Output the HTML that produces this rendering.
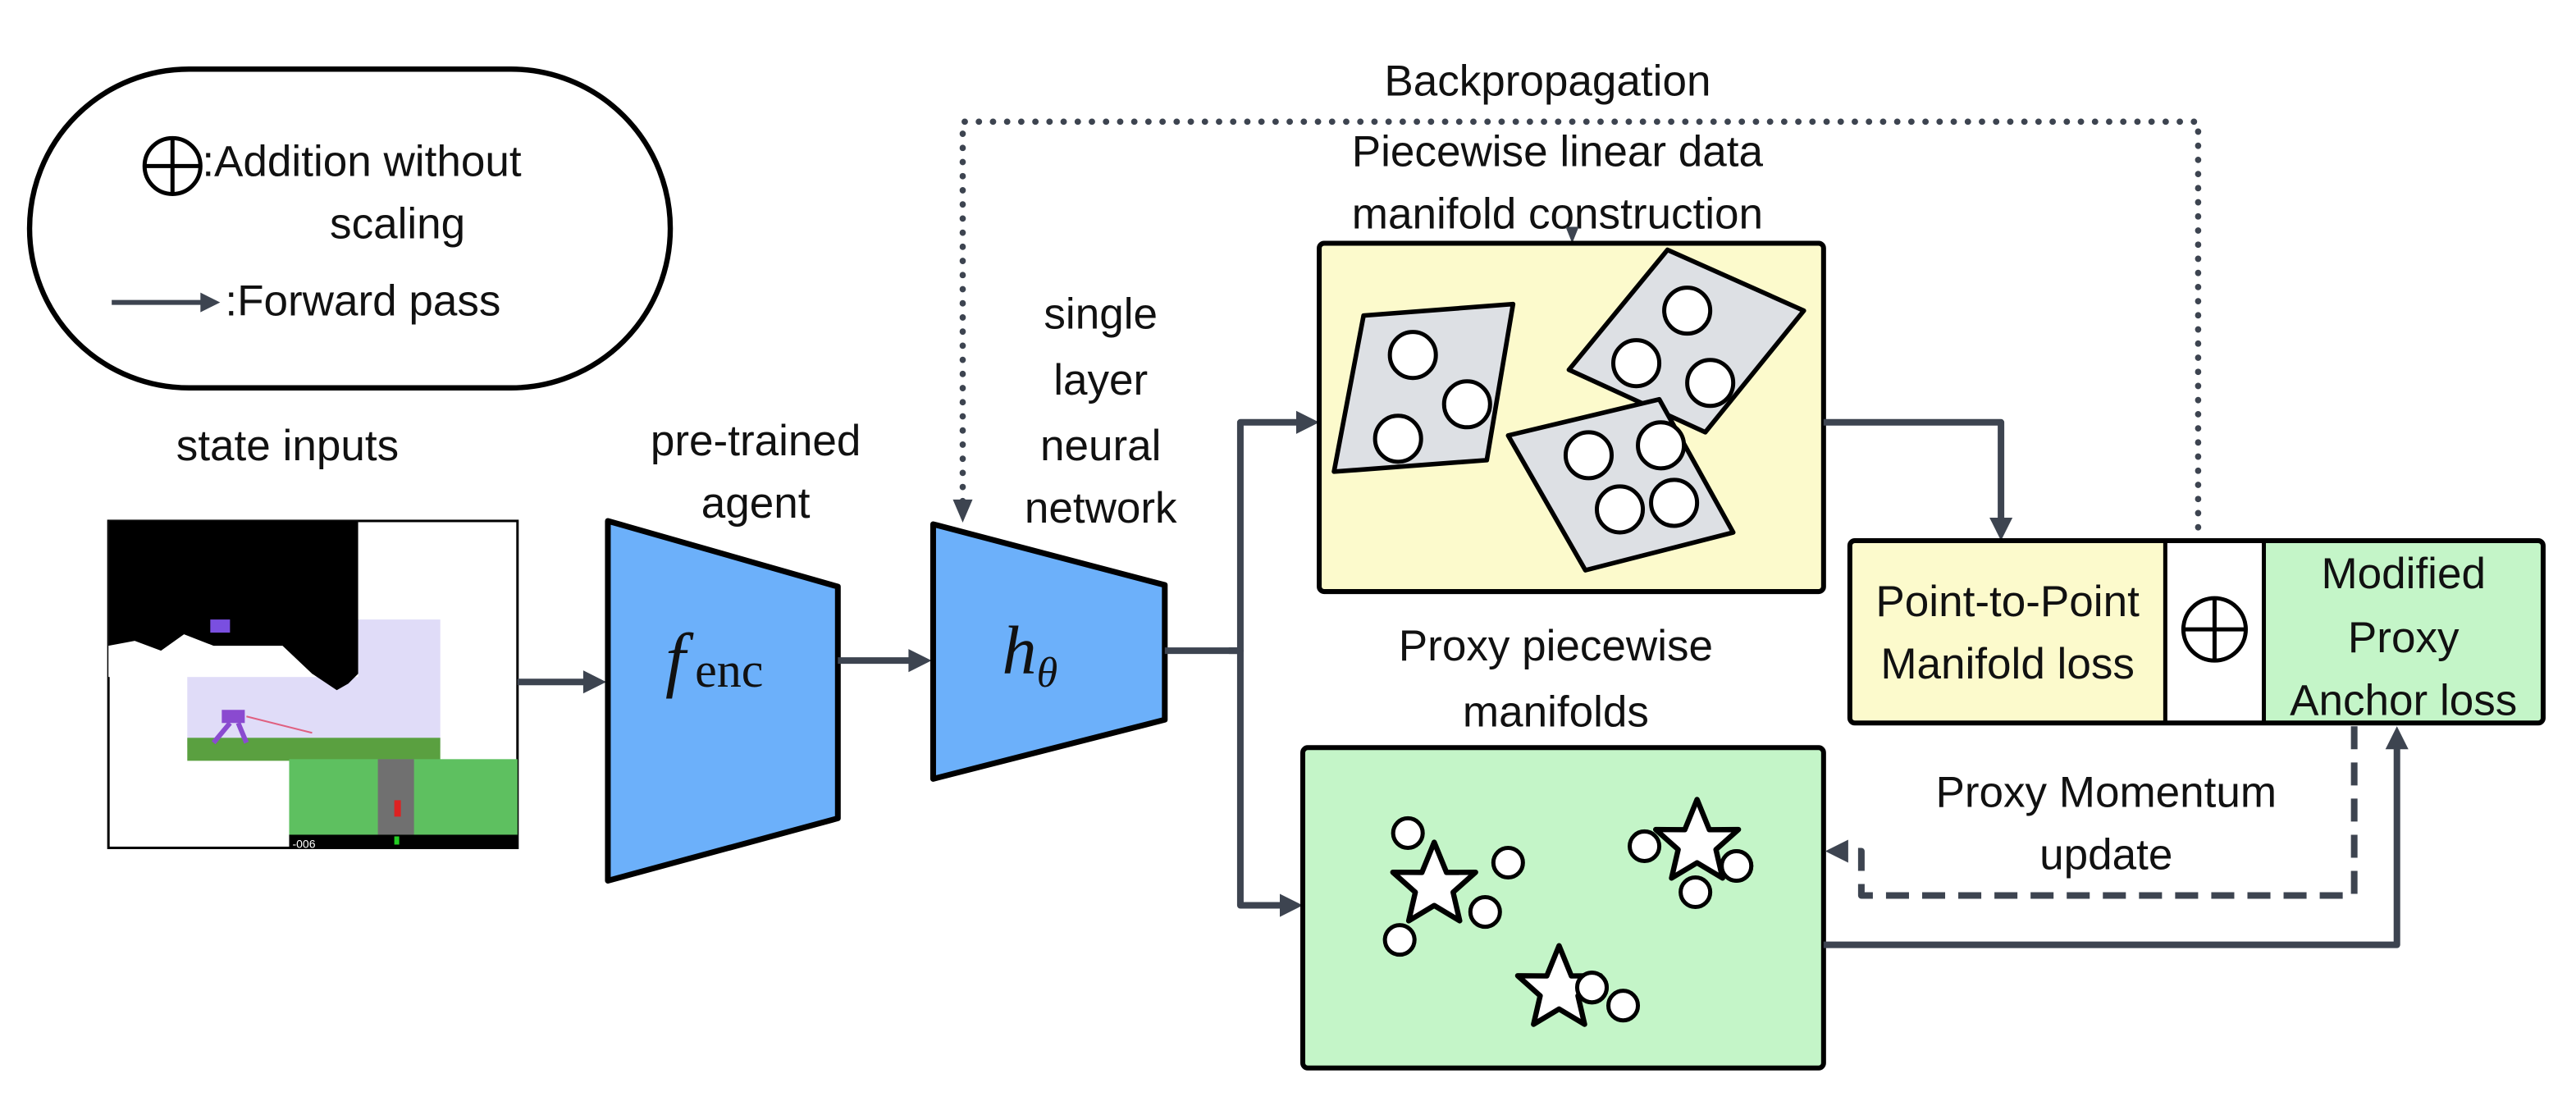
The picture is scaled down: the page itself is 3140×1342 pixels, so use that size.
<!DOCTYPE html>
<html><head><meta charset="utf-8"><style>
html,body{margin:0;padding:0;background:#fff;}
svg{display:block;}
text{font-family:"Liberation Sans",sans-serif;font-size:26.5px;fill:#111;}
</style></head><body>
<svg width="3140" height="1342" viewBox="0 0 1568 670" xmlns="http://www.w3.org/2000/svg">
<!-- legend -->
<rect x="18" y="42" width="390" height="194" rx="97" fill="#fff" stroke="#000" stroke-width="3.2"/>
<circle cx="105" cy="101" r="17" fill="none" stroke="#000" stroke-width="2.5"/>
<line x1="88" y1="101" x2="122" y2="101" stroke="#000" stroke-width="2.5"/>
<line x1="105" y1="84" x2="105" y2="118" stroke="#000" stroke-width="2.5"/>
<text x="123" y="107">:Addition without</text>
<text x="242" y="145" text-anchor="middle">scaling</text>
<line x1="68" y1="184" x2="124" y2="184" stroke="#3d4450" stroke-width="3"/>
<polygon points="134,184 122,178 122,190" fill="#3d4450"/>
<text x="137" y="192">:Forward pass</text>

<!-- state inputs -->
<text x="175" y="280" text-anchor="middle">state inputs</text>
<rect x="66" y="317" width="249" height="199" fill="#fff" stroke="#000" stroke-width="1.5"/>
<rect x="114" y="377" width="154" height="78" fill="#e0dcf8"/>
<rect x="66" y="317" width="152" height="95" fill="#fff"/>
<polygon points="66,317 218,317 218,410 212,416 205,420 190,410 172,393 130,393 112,386 98,396 82,390 66,393" fill="#000"/>
<rect x="128" y="377" width="12" height="8" fill="#7a4fe0"/>
<rect x="114" y="449" width="154" height="14" fill="#5aa040"/>
<rect x="176" y="462" width="139" height="47" fill="#5ec060"/>
<rect x="230" y="462" width="22" height="46" fill="#707070"/>
<rect x="176" y="508" width="139" height="8" fill="#000"/>
<text x="178" y="516" style="font-size:7px;fill:#fff">-006</text>
<rect x="240" y="509" width="3" height="5" fill="#2c2"/>
<rect x="135" y="432" width="14" height="8" fill="#8a4ad0"/>
<line x1="140" y1="440" x2="130" y2="452" stroke="#8a4ad0" stroke-width="3"/>
<line x1="145" y1="440" x2="150" y2="452" stroke="#8a4ad0" stroke-width="3"/>
<line x1="150" y1="436" x2="190" y2="446" stroke="#e06080" stroke-width="1"/>
<rect x="240" y="487" width="4" height="10" fill="#d22"/>

<!-- arrow image -> fenc -->
<line x1="315" y1="415" x2="356" y2="415" stroke="#3d4450" stroke-width="4"/>
<polygon points="369,415 355,408 355,422" fill="#3d4450"/>

<!-- fenc trapezoid -->
<text x="460" y="277" text-anchor="middle">pre-trained</text>
<text x="460" y="315" text-anchor="middle">agent</text>
<polygon points="370,317 510,357 510,498 370,536" fill="#6cb0fa" stroke="#000" stroke-width="3.5" stroke-linejoin="round"/>
<text x="405" y="416" style="font-family:'Liberation Serif',serif;font-style:italic;font-size:44px">f</text>
<text x="423" y="418" style="font-family:'Liberation Serif',serif;font-size:30px">enc</text>

<line x1="510" y1="402" x2="554" y2="402" stroke="#3d4450" stroke-width="4"/>
<polygon points="567,402 553,395 553,409" fill="#3d4450"/>

<!-- h trapezoid -->
<text x="670" y="200" text-anchor="middle">single</text>
<text x="670" y="240" text-anchor="middle">layer</text>
<text x="670" y="280" text-anchor="middle">neural</text>
<text x="670" y="318" text-anchor="middle">network</text>
<polygon points="568,319 709,356 709,438 568,474" fill="#6cb0fa" stroke="#000" stroke-width="3.5" stroke-linejoin="round"/>
<text x="610" y="410" style="font-family:'Liberation Serif',serif;font-style:italic;font-size:42px">h</text>
<text x="631" y="418" style="font-family:'Liberation Serif',serif;font-style:italic;font-size:26px">θ</text>

<!-- branch -->
<polyline points="709,396 755,396 755,257 790,257" fill="none" stroke="#3d4450" stroke-width="4" stroke-linejoin="round"/>
<polygon points="803,257 789,250 789,264" fill="#3d4450"/>
<polyline points="748,396 755,396 755,551 780,551" fill="none" stroke="#3d4450" stroke-width="4" stroke-linejoin="round"/>
<polygon points="793,551 779,544 779,558" fill="#3d4450"/>

<!-- backprop -->
<text x="942" y="58" text-anchor="middle">Backpropagation</text>
<polyline points="586,305 586,74 1338,74 1338,330" fill="none" stroke="#3d4450" stroke-width="3.8" stroke-dasharray="0.1 8.5" stroke-linecap="round"/>
<polygon points="586,318 580,304 592,304" fill="#3d4450"/>

<!-- yellow box -->
<text x="948" y="101" text-anchor="middle">Piecewise linear data</text>
<text x="948" y="139" text-anchor="middle">manifold construction</text>
<polygon points="957,148 953,138 961,138" fill="#3d4450"/>
<rect x="803" y="148" width="307" height="212" rx="3" fill="#fcfacc" stroke="#000" stroke-width="3"/>
<g fill="#dde0e4" stroke="#000" stroke-width="2.8" stroke-linejoin="round">
<polygon points="830,192 921,185 905,280 812,287"/>
<polygon points="1015,152 1098,189 1038,263 955,225"/>
<polygon points="918,265 1010,243 1055,324 965,347"/>
</g>
<g fill="#fff" stroke="#000" stroke-width="2.5">
<circle cx="860" cy="216" r="14"/><circle cx="893" cy="246" r="14"/><circle cx="851" cy="267" r="14"/>
<circle cx="1027" cy="189" r="14"/><circle cx="996" cy="221" r="14"/><circle cx="1041" cy="233" r="14"/>
<circle cx="967" cy="277" r="14"/><circle cx="1011" cy="271" r="14"/><circle cx="986" cy="310" r="14"/><circle cx="1019" cy="306" r="14"/>
</g>

<!-- yellow -> loss -->
<polyline points="1110,257 1218,257 1218,316" fill="none" stroke="#3d4450" stroke-width="4" stroke-linejoin="round"/>
<polygon points="1218,329 1211,315 1225,315" fill="#3d4450"/>

<!-- loss box -->
<rect x="1126" y="329" width="192" height="111" fill="#fcfacc"/>
<rect x="1318" y="329" width="60" height="111" fill="#fff"/>
<rect x="1378" y="329" width="170" height="111" fill="#c4f5c8"/>
<rect x="1126" y="329" width="422" height="111" rx="3" fill="none" stroke="#000" stroke-width="3"/>
<line x1="1318" y1="329" x2="1318" y2="440" stroke="#000" stroke-width="2.5"/>
<line x1="1378" y1="329" x2="1378" y2="440" stroke="#000" stroke-width="2.5"/>
<circle cx="1348" cy="383" r="19" fill="none" stroke="#000" stroke-width="2.5"/>
<line x1="1329" y1="383" x2="1367" y2="383" stroke="#000" stroke-width="2.5"/>
<line x1="1348" y1="364" x2="1348" y2="402" stroke="#000" stroke-width="2.5"/>
<text x="1222" y="375" text-anchor="middle">Point-to-Point</text>
<text x="1222" y="413" text-anchor="middle">Manifold loss</text>
<text x="1463" y="358" text-anchor="middle">Modified</text>
<text x="1463" y="397" text-anchor="middle">Proxy</text>
<text x="1463" y="435" text-anchor="middle">Anchor loss</text>

<!-- green box -->
<text x="947" y="402" text-anchor="middle">Proxy piecewise</text>
<text x="947" y="442" text-anchor="middle">manifolds</text>
<rect x="793" y="455" width="317" height="195" rx="3" fill="#c4f5c8" stroke="#000" stroke-width="3"/>
<g fill="#fff" stroke="#000" stroke-width="2.5">
<circle cx="857" cy="507" r="9"/><circle cx="918" cy="525" r="9"/><circle cx="904" cy="555" r="9"/><circle cx="852" cy="572" r="9"/>
<circle cx="1001" cy="515" r="9"/><circle cx="1057" cy="527" r="9"/><circle cx="1032" cy="543" r="9"/>
<circle cx="969" cy="601" r="9"/><circle cx="988" cy="612" r="9"/>
</g>
<g fill="#fff" stroke="#000" stroke-width="2.8" stroke-linejoin="round">
<polygon transform="translate(873,539) scale(1.15)" points="0,-23 6.5,-7 21.9,-7.1 10,3.5 13.5,18.6 0,10.5 -13.5,18.6 -10,3.5 -21.9,-7.1 -6.5,-7"/>
<polygon transform="translate(1033,513) scale(1.15)" points="0,-23 6.5,-7 21.9,-7.1 10,3.5 13.5,18.6 0,10.5 -13.5,18.6 -10,3.5 -21.9,-7.1 -6.5,-7"/>
<polygon transform="translate(949,602) scale(1.15)" points="0,-23 6.5,-7 21.9,-7.1 10,3.5 13.5,18.6 0,10.5 -13.5,18.6 -10,3.5 -21.9,-7.1 -6.5,-7"/>
</g>
<g fill="#fff" stroke="#000" stroke-width="2.5">
<circle cx="969" cy="601" r="9"/><circle cx="1057" cy="527" r="9"/>
</g>

<!-- momentum dashed -->
<text x="1282" y="491" text-anchor="middle">Proxy Momentum</text>
<text x="1282" y="529" text-anchor="middle">update</text>
<polyline points="1433,442 1433,545 1133,545 1133,518 1124,518" fill="none" stroke="#3d4450" stroke-width="4" stroke-dasharray="14 8" stroke-linejoin="round"/>
<polygon points="1111,518 1125,511 1125,525" fill="#3d4450"/>

<!-- green -> loss -->
<polyline points="1110,575 1459,575 1459,455" fill="none" stroke="#3d4450" stroke-width="4" stroke-linejoin="round"/>
<polygon points="1459,442 1452,456 1466,456" fill="#3d4450"/>
</svg>
</body></html>
